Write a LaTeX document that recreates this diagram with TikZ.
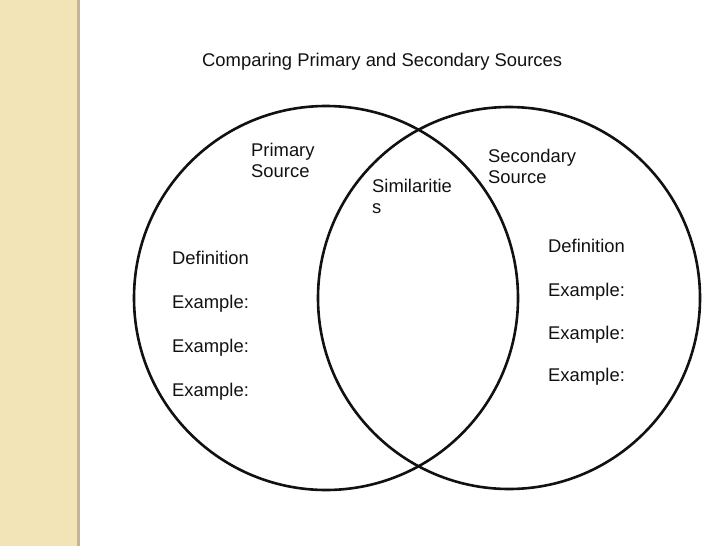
\documentclass[tikz,border=0pt]{standalone}
\usepackage{fontspec}
\setmainfont{Liberation Sans}
\usepackage{tikz}
\usetikzlibrary{positioning}
\definecolor{ink}      {HTML}{111111}
\definecolor{parchment}{HTML}{F3E4B8}
\definecolor{rim}      {HTML}{C2B59C}
\tikzset{
  every node/.style={font=\fontsize{18.4}{21}\selectfont, text=ink},
  % --- shapes
  ring/.style = {circle, draw=ink, line width=2.6pt, inner sep=0pt},
  % --- texts (base = baseline of the last line)
  lbl/.style  = {anchor=base west, inner sep=0pt, align=left},
}

\begin{document}
\begin{tikzpicture}[x=1pt, y=-1pt]
  \useasboundingbox (0,0) rectangle (728,546);
  % ------------------------------------------------------------------ side strip
  \fill[parchment] (0,0) rectangle (77,546);
  \fill[rim] (77,0) rectangle (80,546);

  % ------------------------------------------------------------------ circles
  \node[ring, minimum size=384pt] (primary)   at (326,298) {};
  \node[ring, minimum size=382pt] (secondary) at (509,298) {};

  % ------------------------------------------------------------------ title
  \node[lbl] (title) at (202,66) {Comparing Primary and Secondary Sources};

  % ------------------------------------------------------------------ headings
  \node[lbl] (primhd) at (251,177) {Primary\\Source};
  \node[lbl] (sechd)  at (488,183) {Secondary\\Source};
  \node[lbl] (simhd)  at (372,213) {Similaritie\\s};

  % ------------------------------------------------------------------ left column
  \node[lbl] (pdef) at (172,264) {Definition};
  \node[lbl] (pex1) at (172,308) {Example:};
  \node[lbl] (pex2) at (172,352) {Example:};
  \node[lbl] (pex3) at (172,396) {Example:};

  % ------------------------------------------------------------------ right column
  \node[lbl] (sdef) at (548,252) {Definition};
  \node[lbl] (sex1) at (548,296) {Example:};
  \node[lbl] (sex2) at (548,339) {Example:};
  \node[lbl] (sex3) at (548,381) {Example:};
\end{tikzpicture}
\end{document}
